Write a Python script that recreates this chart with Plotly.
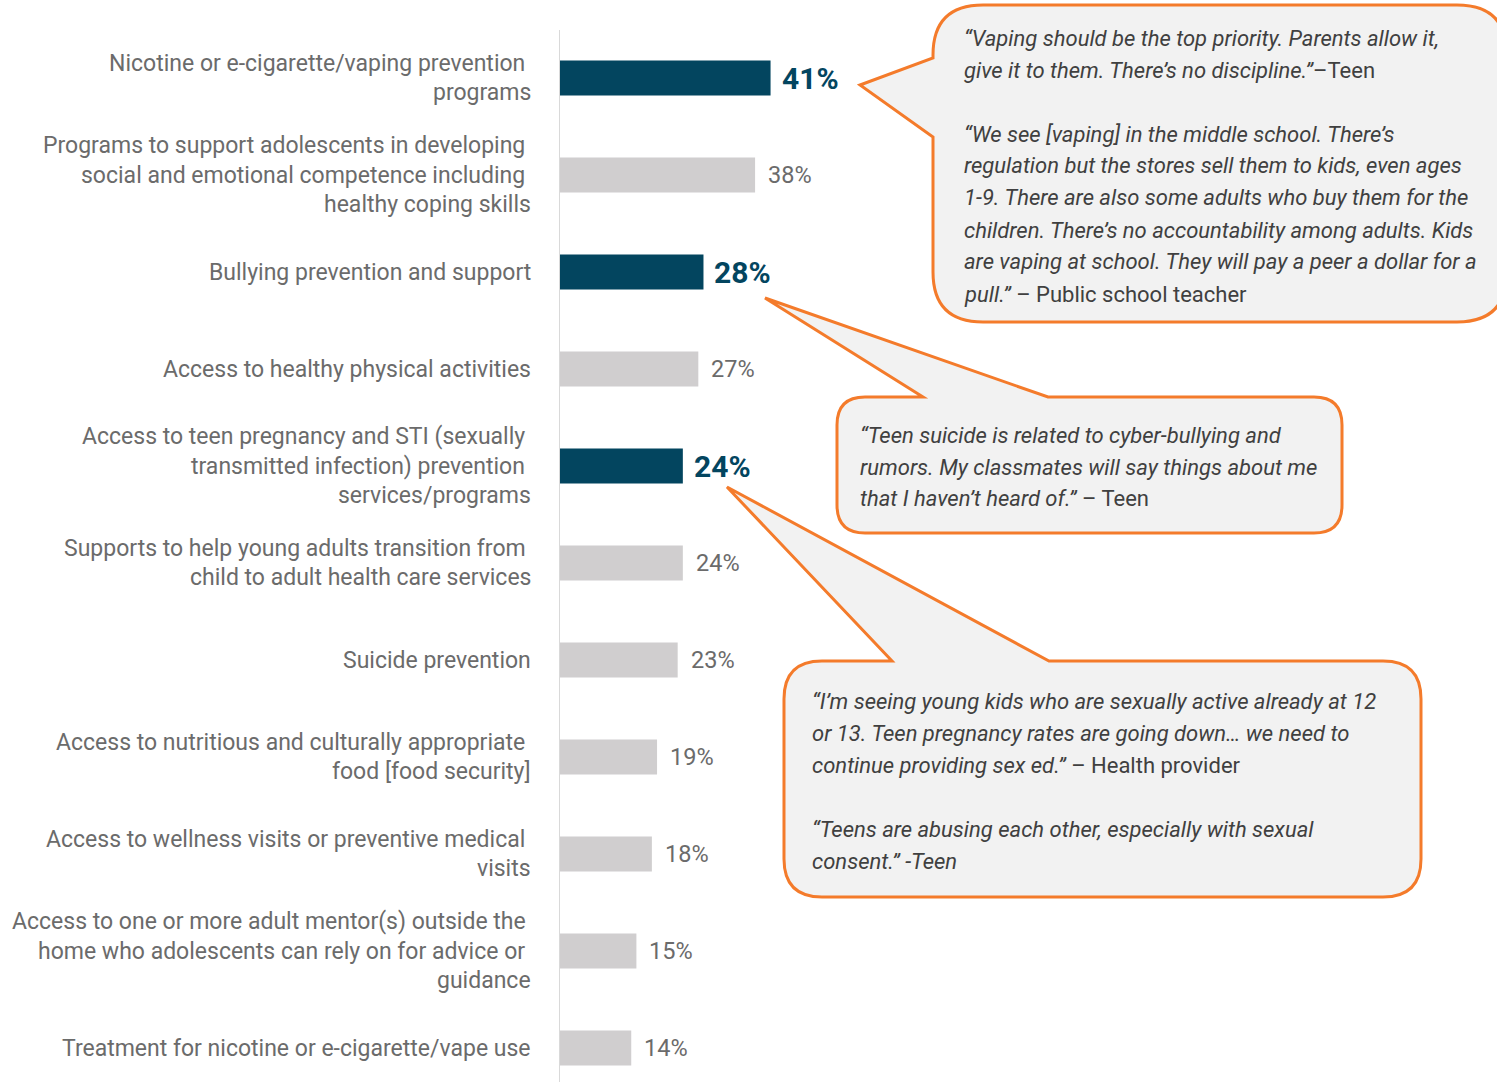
import plotly.graph_objects as go

W, H = 1497, 1082

# ---- data ---------------------------------------------------------------
categories = [
    "Nicotine or e-cigarette/vaping prevention\nprograms",
    "Programs to support adolescents in developing\nsocial and emotional competence including\nhealthy coping skills",
    "Bullying prevention and support",
    "Access to healthy physical activities",
    "Access to teen pregnancy and STI (sexually\ntransmitted infection) prevention\nservices/programs",
    "Supports to help young adults transition from\nchild to adult health care services",
    "Suicide prevention",
    "Access to nutritious and culturally appropriate\nfood [food security]",
    "Access to wellness visits or preventive medical\nvisits",
    "Access to one or more adult mentor(s) outside the\nhome who adolescents can rely on for advice or\nguidance",
    "Treatment for nicotine or e-cigarette/vape use",
]
values = [41, 38, 28, 27, 24, 24, 23, 19, 18, 15, 14]
highlighted = [True, False, True, False, True, False, False, False, False, False, False]

quote_vaping = [
    "<i>“Vaping should be the top priority. Parents allow it,</i>",
    "<i>give it to them. There’s no discipline.”</i>–Teen",
    "",
    "<i>“We see [vaping] in the middle school. There’s</i>",
    "<i>regulation but the stores sell them to kids, even ages</i>",
    "<i>1-9. There are also some adults who buy them for the</i>",
    "<i>children. There’s no accountability among adults. Kids</i>",
    "<i>are vaping at school. They will pay a peer a dollar for a</i>",
    "<i>pull.”</i> – Public school teacher",
]
quote_bullying = [
    "<i>“Teen suicide is related to cyber-bullying and</i>",
    "<i>rumors. My classmates will say things about me</i>",
    "<i>that I haven’t heard of.”</i> – Teen",
]
quote_pregnancy = [
    "<i>“I’m seeing young kids who are sexually active already at 12</i>",
    "<i>or 13. Teen pregnancy rates are going down… we need to</i>",
    "<i>continue providing sex ed.”</i> – Health provider",
    "",
    "<i>“Teens are abusing each other, especially with sexual</i>",
    "<i>consent.” -Teen</i>",
]

# ---- styling ------------------------------------------------------------
FONT = "Roboto"
DARK = "#03455F"
LIGHT = "#D0CECF"
LABEL_GRAY = "#6B6B6B"
QUOTE_GRAY = "#404040"
ORANGE = "#F47B2B"
BUBBLE_FILL = "#F2F2F2"

AXIS_X = 559          # pixel x of the zero line
PX_PER_PCT = 5.16     # horizontal scale
ROW_TOP = 78          # pixel y of the first row centre
ROW_STEP = 97         # pixel distance between rows
LINE_STEP = 29.5      # label line spacing
QUOTE_STEP = 32       # quote line spacing

names = [c.replace("\n", " ") for c in categories]
n = len(names)


def px(x):
    return x / W


def py(y):
    return 1 - y / H


fig = go.Figure()
fig.add_trace(go.Bar(
    x=values,
    y=names,
    orientation="h",
    marker=dict(color=[DARK if h else LIGHT for h in highlighted], line=dict(width=0)),
    width=0.36,
    hoverinfo="skip",
))

annotations = []

# category labels, right aligned against the axis
for name, cat in zip(names, categories):
    lines = cat.split("\n")
    m = len(lines)
    for k, line in enumerate(lines):
        txt = line + ("\u00a0" if k < m - 1 else "")
        annotations.append(dict(
            x=px(533), xref="paper", xanchor="right",
            y=name, yref="y", yanchor="middle",
            yshift=((m - 1) / 2 - k) * LINE_STEP,
            text=txt, showarrow=False,
            font=dict(family=FONT, size=23, color=LABEL_GRAY),
        ))

# value labels
for name, v, h in zip(names, values, highlighted):
    annotations.append(dict(
        x=v, xref="x", xanchor="left", xshift=9 if h else 11,
        y=name, yref="y", yanchor="middle",
        text=f"<b>{v}%</b>" if h else f"{v}%", showarrow=False,
        font=dict(family=FONT, size=30 if h else 23.5, color=DARK if h else LABEL_GRAY),
    ))


def quote_block(lines, left, first_y):
    for k, line in enumerate(lines):
        if not line:
            continue
        annotations.append(dict(
            x=px(left), xref="paper", xanchor="left",
            y=py(first_y + k * QUOTE_STEP), yref="paper", yanchor="middle",
            text=line, showarrow=False, align="left",
            font=dict(family=FONT, size=22, color=QUOTE_GRAY),
        ))


quote_block(quote_vaping, 962, 38)
quote_block(quote_bullying, 858, 435)
quote_block(quote_pregnancy, 810, 701)


def bubble(left, top, right, bottom, r, tail_side, tail_a, tail_tip, tail_b):
    """Rounded rectangle with a pointed tail; coordinates in pixels."""
    pts = []

    def M(x, y):
        pts.append(f"M{px(x):.5f},{py(y):.5f}")

    def L(x, y):
        pts.append(f"L{px(x):.5f},{py(y):.5f}")

    def Q(cx, cy, x, y):
        pts.append(f"Q{px(cx):.5f},{py(cy):.5f} {px(x):.5f},{py(y):.5f}")

    M(left, top + r)
    Q(left, top, left + r, top)
    if tail_side == "top":
        L(*tail_a)
        L(*tail_tip)
        L(*tail_b)
    L(right - r, top)
    Q(right, top, right, top + r)
    L(right, bottom - r)
    Q(right, bottom, right - r, bottom)
    L(left + r, bottom)
    Q(left, bottom, left, bottom - r)
    if tail_side == "left":
        L(*tail_b)
        L(*tail_tip)
        L(*tail_a)
    pts.append("Z")
    return dict(
        type="path", xref="paper", yref="paper", path=" ".join(pts),
        fillcolor=BUBBLE_FILL, line=dict(color=ORANGE, width=3), layer="above",
    )


shapes = [
    # zero line
    dict(type="line", xref="x", x0=0, x1=0, yref="paper", y0=0, y1=py(30),
         line=dict(color="#D9D9D9", width=2), layer="above"),
    bubble(933, 5, 1507, 322, 50, "left", (933, 58), (860, 85), (933, 137)),
    bubble(837, 397, 1342, 533, 28, "top", (923, 397), (765, 298), (1048, 397)),
    bubble(784, 661, 1421, 897, 38, "top", (892, 661), (727, 487), (1049, 661)),
]

fig.update_layout(
    width=W, height=H,
    margin=dict(l=0, r=0, t=0, b=0),
    paper_bgcolor="white", plot_bgcolor="white",
    showlegend=False,
    xaxis=dict(domain=[px(AXIS_X), 1], range=[0, (W - AXIS_X) / PX_PER_PCT],
               visible=False, fixedrange=True),
    yaxis=dict(type="category", categoryorder="array", categoryarray=names,
               range=[(H - ROW_TOP) / ROW_STEP, -ROW_TOP / ROW_STEP],
               showticklabels=False, showgrid=False, zeroline=False, showline=False,
               fixedrange=True),
    annotations=annotations,
    shapes=shapes,
)

fig.write_html("out.html")
